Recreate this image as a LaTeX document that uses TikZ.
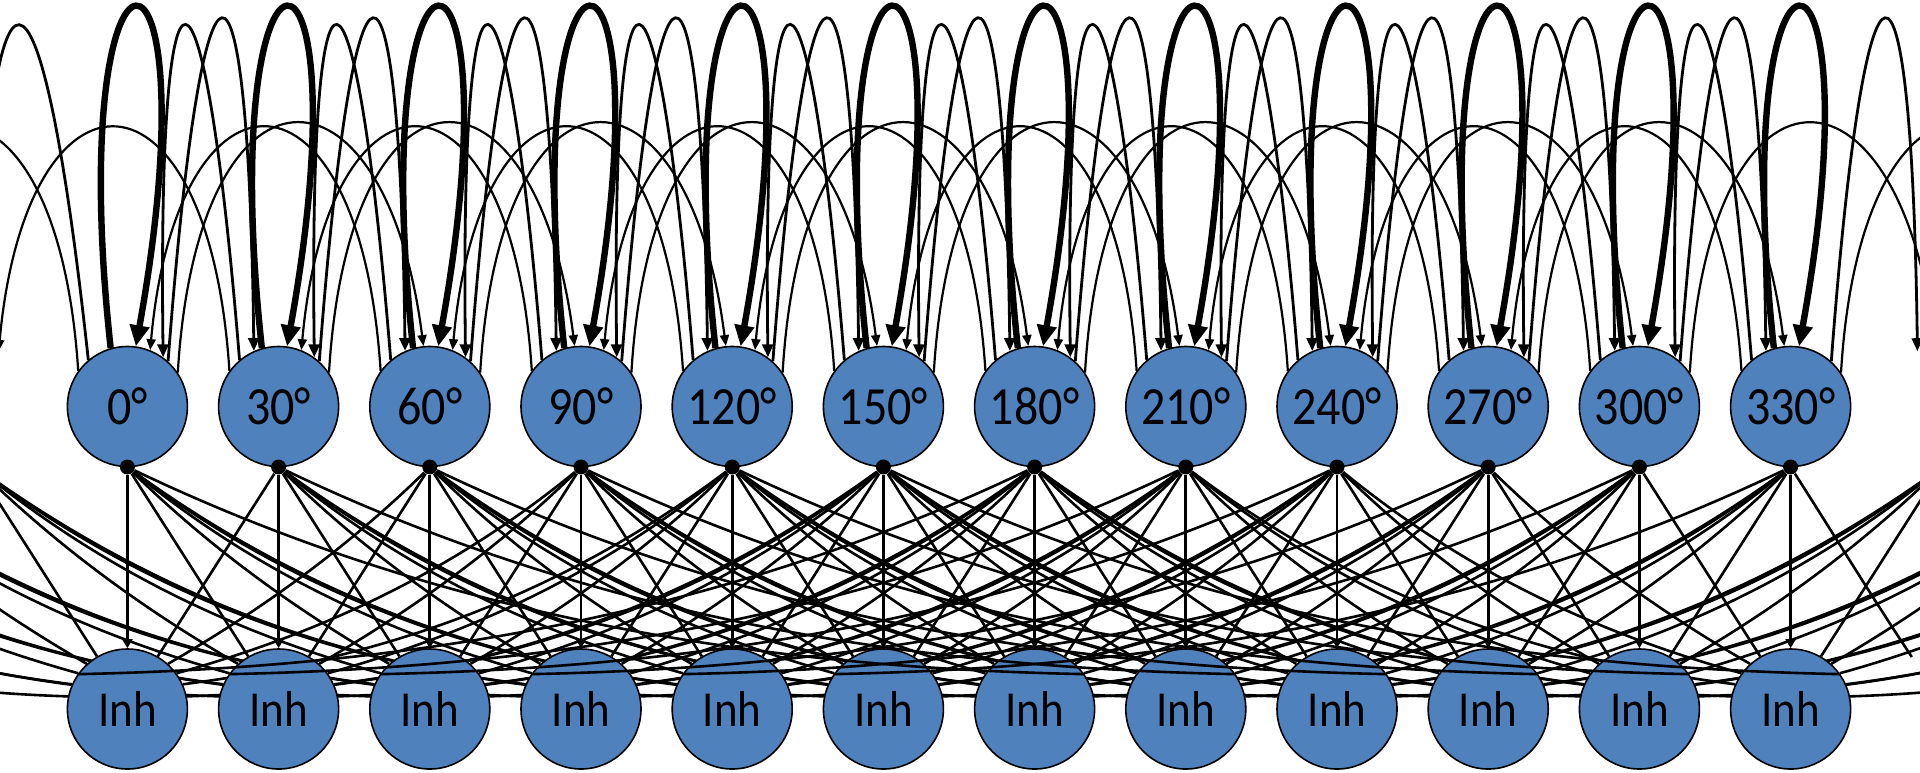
\documentclass[tikz,border=0pt]{standalone}
\usepackage{fontspec}
\setmainfont{Carlito}
\usetikzlibrary{arrows.meta}
\definecolor{cellblue}{HTML}{4F81BD}
\pgfdeclarelayer{wires}
\pgfsetlayers{wires,main}
\newcommand{\cellText}[1]{\scalebox{1}[1.12]{#1}}

\begin{document}
\begin{tikzpicture}[x=0.5pt,y=-0.5pt,
  cell/.style={circle,draw=black,line width=0.8pt,fill=cellblue,
    minimum size=60pt,inner sep=0pt,font=\fontsize{22.5}{27}\selectfont},
  anglecell/.style={cell,font=\fontsize{24}{28}\selectfont},
  hub/.style={circle,fill=black,minimum size=7.5pt,inner sep=0pt},
  selfloop/.style={line width=3.2pt,-{Triangle[length=10.5pt,width=9.5pt]}},
  tallarc/.style={line width=1.4pt,-{Triangle[length=6.5pt,width=5.5pt]}},
  midarc/.style={line width=1.1pt,-{Triangle[length=5.5pt,width=4.5pt]}},
  fanline/.style={line width=1.3pt},
  droparrow/.style={line width=1.4pt,-{Triangle[length=4.5pt,width=5pt]}},
]
\useasboundingbox (0,0) rectangle (1920,772);
\clip (0,0) rectangle (1920,772);

% orientation cells, their output hubs and the inhibitory cells
\foreach \i/\lab in {0/0,1/30,2/60,3/90,4/120,5/150,6/180,7/210,8/240,9/270,10/300,11/330}{
  \pgfmathsetmacro\xx{127.4+151.2*\i}
  \node[anglecell] (e\i) at (\xx,406.5) {\cellText{\lab°}};
  \node[cell] (i\i) at (\xx,709) {\cellText{Inh}};
  \node[hub] (d\i) at (\xx,467) {};
}
% wrapped-around hub positions beyond both ends of the ring
\foreach \j in {-5,...,-1}{
  \pgfmathsetmacro\xx{127.4+151.2*\j}
  \coordinate (d\j) at (\xx,467);
}
\foreach \j in {12,...,16}{
  \pgfmathsetmacro\xx{127.4+151.2*\j}
  \coordinate (d\j) at (\xx,467);
}

% excitatory -> inhibitory fan (behind the inhibitory cells)
\begin{pgfonlayer}{wires}
\foreach \j in {-5,...,16}{
  \foreach \m in {0,...,11}{
    \pgfmathtruncatemacro\dd{abs(\j-\m)}
    \pgfmathtruncatemacro\ok{and(\dd>0,\dd<6)}
    \ifnum\ok=1
      \pgfmathsetmacro\sg{(\m>\j)?1:-1}
      \pgfmathtruncatemacro\ang{90+\sg*(30+12*(\dd-1))}
      \pgfmathsetmacro\sx{127.4+151.2*\j}
      \pgfmathsetmacro\ex{127.4+151.2*\m+60*cos(\ang)}
      \pgfmathsetmacro\ey{709-60*sin(\ang)}
      \pgfmathsetmacro\kk{(\dd-1)/4}
      \pgfmathsetmacro\cax{\sx+(\ex-\sx)/3}
      \pgfmathsetmacro\cay{467+(\ey-467)*(1/3+0.4*\kk)}
      \pgfmathsetmacro\cbx{\ex-(\ex-\sx)/3}
      \pgfmathsetmacro\cby{\ey-(\ey-467)*(1/3-0.3*\kk)}
      \draw[fanline] (d\j) .. controls (\cax,\cay) and (\cbx,\cby) .. (i\m.\ang);
    \fi
  }
}
\end{pgfonlayer}

% half-way-round connections, drawn over the cells they cross
\foreach \j in {0,...,11}{
  \pgfmathtruncatemacro\m{\j<6 ? \j+6 : \j-6}
  \pgfmathtruncatemacro\ang{\j<6 ? 35 : 145}
  \pgfmathsetmacro\sx{127.4+151.2*\j}
  \pgfmathsetmacro\ex{127.4+151.2*\m+60*cos(\ang)}
  \pgfmathsetmacro\ey{709-60*sin(\ang)}
  \pgfmathsetmacro\cax{\sx+(\ex-\sx)/3}
  \pgfmathsetmacro\cay{467+(\ey-467)*0.7333}
  \pgfmathsetmacro\cbx{\ex-(\ex-\sx)/3}
  \pgfmathsetmacro\cby{\ey-(\ey-467)*0.0333}
  \draw[fanline] (d\j) .. controls (\cax,\cay) and (\cbx,\cby) .. (i\m.\ang);
}
\coordinate (wrapInh) at (1911.8,657);
\draw[fanline] (d11) .. controls (1831,530) and (1870,594) .. (wrapInh);

% straight drop from each cell to its own inhibitory partner
\foreach \i in {0,...,11}{
  \draw[droparrow] (d\i) -- (i\i);
}

% recurrent excitation: self loops
\foreach \i in {0,...,11}{
  \pgfmathsetmacro\xx{127.4+151.2*\i}
  \draw[selfloop] (e\i.106) .. controls (\xx-66,-105) and (\xx+90,-105) .. (e\i.82);
}

% nearest neighbours, rightwards
\foreach \i in {0,...,10}{
  \pgfmathtruncatemacro\n{\i+1}
  \pgfmathsetmacro\xa{127.4+151.2*\i}
  \draw[tallarc] (e\i.48) .. controls (\xa+75,-93) and (\xa+121,-93) .. (e\n.114);
}
\coordinate (rimR) at (1917.4,351.2);
\draw[tallarc] (e11.48) .. controls (1865.6,-93) and (1911.6,-93) .. (rimR);

% nearest neighbours, leftwards
\foreach \i in {0,...,10}{
  \pgfmathtruncatemacro\n{\i+1}
  \pgfmathsetmacro\xa{127.4+151.2*\i}
  \draw[tallarc] (e\n.130) .. controls (\xa+76,-85) and (\xa+30,-85) .. (e\i.54);
}
\coordinate (rimL) at (-25,360);
\draw[tallarc] (e0.130) .. controls (40,-85) and (-10,-85) .. (rimL);

% second neighbours, rightwards (arch over the cell in between)
\foreach \i in {1,...,10}{
  \pgfmathtruncatemacro\p{\i-1}
  \pgfmathtruncatemacro\n{\i+1}
  \pgfmathsetmacro\xx{127.4+151.2*\i}
  \draw[midarc] (e\p.34) .. controls (\xx-81.2,45) and (\xx+106.2,45) .. (e\n.96);
}
\coordinate (rimDa) at (1935.5,346.8);
\coordinate (rimDb) at (2086.7,346.8);
\draw[midarc] (e10.34) .. controls (1790.6-81.2,45) and (1790.6+106.2,45) .. (rimDa);
\draw[midarc] (e11.34) .. controls (1941.8-81.2,45) and (1941.8+106.2,45) .. (rimDb);

% second neighbours, leftwards
\foreach \i in {1,...,10}{
  \pgfmathtruncatemacro\p{\i-1}
  \pgfmathtruncatemacro\n{\i+1}
  \pgfmathsetmacro\xx{127.4+151.2*\i}
  \draw[midarc] (e\n.144) .. controls (\xx+81.2,50) and (\xx-101.2,50) .. (e\p.68);
}
\coordinate (rimEa) at (-1.3,350.9);
\coordinate (rimEb) at (-152.5,350.9);
\draw[midarc] (e1.144) .. controls (127.4+81.2,50) and (127.4-101.2,50) .. (rimEa);
\draw[midarc] (e0.144) .. controls (-23.8+81.2,50) and (-23.8-101.2,50) .. (rimEb);

\end{tikzpicture}
\end{document}
